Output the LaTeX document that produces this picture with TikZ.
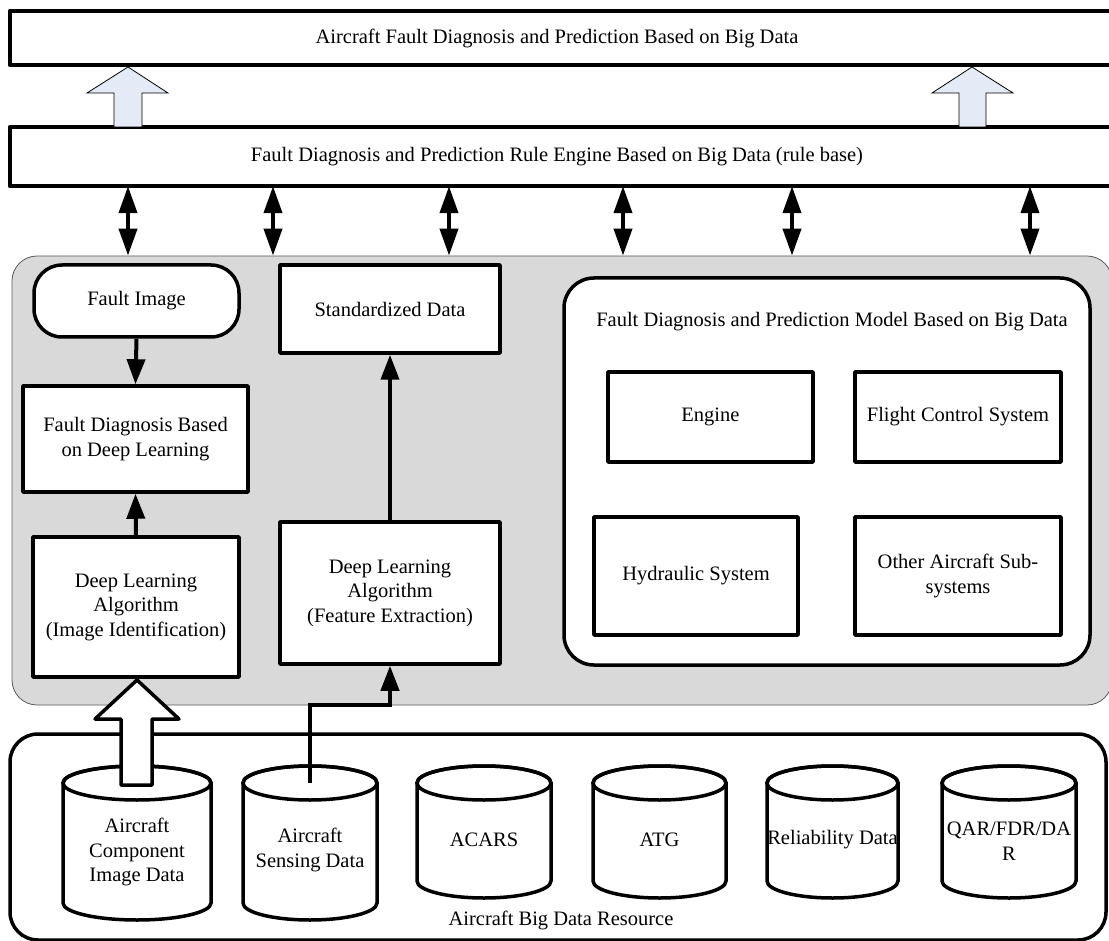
\documentclass[tikz,border=0pt]{standalone}
\usepackage{fontspec}
\setmainfont{Liberation Serif}
\usetikzlibrary{arrows.meta,calc}
\definecolor{panelgray}{RGB}{217,217,217}
\definecolor{panelline}{RGB}{90,90,90}
\definecolor{lightblue}{RGB}{228,235,246}
\newcommand\dbcyl[6]{%
  \filldraw[cylline] ({#2-#3},#4) -- ({#2-#3},#5)
    .. controls ({#2-#3},{#5+0.552*#6}) and ({#2-0.552*#3},{#5+#6}) .. (#2,{#5+#6})
    .. controls ({#2+0.552*#3},{#5+#6}) and ({#2+#3},{#5+0.552*#6}) .. ({#2+#3},#5)
    -- ({#2+#3},#4)
    .. controls ({#2+#3},{#4-0.552*#6}) and ({#2+0.552*#3},{#4-#6}) .. (#2,{#4-#6})
    .. controls ({#2-0.552*#3},{#4-#6}) and ({#2-#3},{#4-0.552*#6}) .. ({#2-#3},#4) -- cycle;
  \draw[line width=3.5pt] (#2,#4) ellipse [x radius=#3, y radius=#6];
  \node[inner sep=0pt, minimum width={2*#3}, minimum height={#5-#4+2*#6}] (#1) at (#2,{(#4+#5)/2}) {};
}
\tikzset{
  lbl/.style={font=\fontsize{20.5}{24.5}\selectfont, align=center, inner sep=0pt},
  boxline/.style={line width=3.5pt, line join=round},
  box/.style={boxline, draw, fill=white, rectangle, inner sep=0pt,
              font=\fontsize{20.5}{24.5}\selectfont, align=center},
  rbox/.style={box, rounded corners=#1},
  panel/.style={draw=panelline, line width=0.8pt, fill=panelgray, rounded corners=25pt, inner sep=0pt},
  conn/.style={line width=4pt, -{Triangle[width=18pt,length=25pt]}},
  dbl/.style={line width=4pt, {Triangle[width=18pt,length=27pt]}-{Triangle[width=18pt,length=27pt]}},
  blockarrow/.style={draw, line width=0.8pt, fill=lightblue, line join=miter},
  bigarrow/.style={draw, line width=3.5pt, fill=white, line join=round},
  cylline/.style={line width=3.5pt, fill=white},
}
\begin{document}
\begin{tikzpicture}[x=1pt,y=-1pt]
\useasboundingbox (0,0) rectangle (1109,941);
\clip (0,0) rectangle (1109,941);
\fill[white] (0,0) rectangle (1109,941);

% top layer
\node[lbl, minimum width=1094pt, minimum height=54pt] (top) at (557,38)
  {Aircraft Fault Diagnosis and Prediction Based on Big Data};
\draw[boxline] ($(top.north east)+(40,0)$) -- (top.north west) -- (top.south west) -- ($(top.south east)+(40,0)$);

\node[lbl, minimum width=1094pt, minimum height=59pt] (rule) at (557,156.5)
  {Fault Diagnosis and Prediction Rule Engine Based on Big Data (rule base)};
\draw[boxline] ($(rule.north east)+(40,0)$) -- (rule.north west) -- (rule.south west) -- ($(rule.south east)+(40,0)$);

% block arrows between top layers
\draw[blockarrow] (128,67) -- (168,93) -- (142,93) -- (142,127) -- (114,127) -- (114,93) -- (87,93) -- cycle;
\draw[blockarrow] (972,67) -- (1013,93) -- (986,93) -- (986,127) -- (959,127) -- (959,93) -- (932,93) -- cycle;

% grey panel
\node[panel, minimum width=1100pt, minimum height=449pt] (panel) at (562,480.5) {};

% double arrows
\foreach \i/\x in {1/128,2/273,3/449,4/623,5/792,6/1030}{
  \coordinate (a\i) at (\x,0);
  \draw[dbl] (rule.south -| a\i) -- (panel.north -| a\i);
}

% left column
\node[rbox=28pt, minimum width=205pt, minimum height=72pt] (fimg) at (136.5,301) {Fault Image};
\node[box, minimum width=225pt, minimum height=106pt] (fd) at (135.5,439) {Fault Diagnosis Based\\on Deep Learning};
\node[box, minimum width=206pt, minimum height=140pt] (dlimg) at (136,607) {Deep Learning\\Algorithm\\(Image Identification)};
\draw[conn] (fimg.south) -- (fd.north);
\draw[conn] (dlimg.north) -- (fd.south);

% middle column
\node[box, minimum width=220pt, minimum height=88pt] (std) at (390,309) {Standardized Data};
\node[box, minimum width=220pt, minimum height=142pt] (feat) at (390,593) {Deep Learning\\Algorithm\\(Feature Extraction)};
\draw[conn] (feat.north) -- (std.south);

% model
\node[rbox=30pt, minimum width=526pt, minimum height=387pt] (model) at (827,471.5) {};
\node[lbl] (modeltitle) at (832,322) {Fault Diagnosis and Prediction Model Based on Big Data};
\node[box, minimum width=205pt, minimum height=90pt] (engine) at (710.5,417) {Engine};
\node[box, minimum width=206pt, minimum height=90pt] (flight) at (958,417) {Flight Control System};
\node[box, minimum width=204pt, minimum height=118pt] (hyd) at (696,576) {Hydraulic System};
\node[box, minimum width=206pt, minimum height=118pt] (other) at (958,576) {Other Aircraft Sub-\\systems};

% resource box
\node[rbox=28pt, minimum width=1096pt, minimum height=206pt] (res) at (558,837) {};
\node[lbl] (reslbl) at (561,920) {Aircraft Big Data Resource};

\dbcyl{c1}{137}{74}{783}{903}{17}
\dbcyl{c2}{310}{67}{783}{903}{17}
\dbcyl{c3}{484}{67}{783}{881}{17}
\dbcyl{c4}{659.5}{66.5}{783}{881}{17}
\dbcyl{c5}{832.5}{65.5}{783}{881}{17}
\dbcyl{c6}{1009}{67}{783}{881}{17}

\node[lbl] (t1) at (137,852) {Aircraft\\Component\\Image Data};
\node[lbl] (t2) at (310,850) {Aircraft\\Sensing Data};
\node[lbl] (t3) at (484,840) {ACARS};
\node[lbl] (t4) at (659.5,840) {ATG};
\node[lbl] (t5) at (832.5,840) {Reliability Data};
\node[lbl] (t6) at (1009,841) {QAR/FDR/DA\\R};

% big hollow arrow from image data to image identification
\draw[bigarrow] (137,680) -- (179,719) -- (152,719) -- (152,785) -- (121,785) -- (121,719) -- (95,719) -- cycle;

% sensing data to feature extraction
\coordinate (c2top) at (310,783);
\draw[conn] (c2top) -- (c2top |- panel.south) -| (feat.south);
\end{tikzpicture}
\end{document}
